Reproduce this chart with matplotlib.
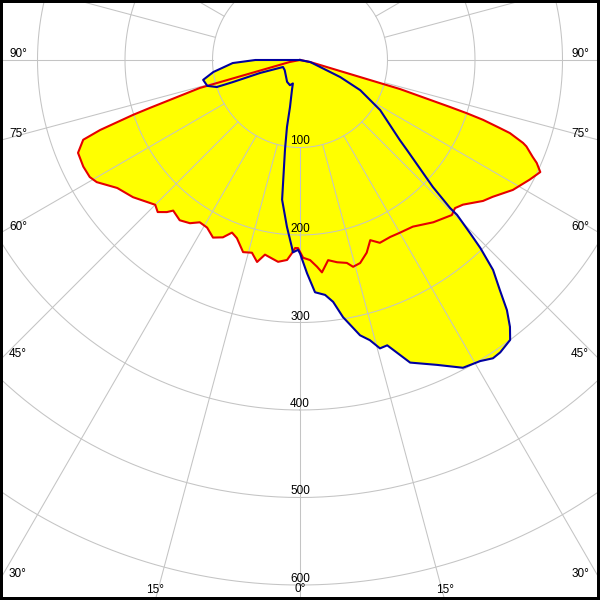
import numpy as np
import matplotlib
matplotlib.use("Agg")
import matplotlib.pyplot as plt
from matplotlib.patches import Rectangle

# ==========================================
# ================DATA======================
# ==========================================

# C0-C180 plane (red): gamma in degrees, negative = C180 side, intensity in cd
red_gamma = [-90, -79, -74.4, -72.3, -71.8, -70.7, -69.8, -67.3, -63.8, -60.9,
             -59.0, -55.0, -50.6, -45.0, -43.1, -41.2, -40.1, -36.9, -34.0, -31.7,
             -29.0, -26.1, -23.5, -21.5, -19.5, -16.5, -14.0, -12.0, -10.2, -8.1,
             -6.2, -3.7, -2.4, -1.5, -0.6, 0.9, 2.9, 4.7, 5.9, 8.0,
             10.4, 13.0, 14.4, 16.5, 19.1, 21.3, 23.6, 27.0, 30.0, 34.1,
             39.4, 44.4, 46.3, 48.4, 52.4, 54.6, 58.6, 62.5, 65.0, 66.5,
             67.4, 69.1, 69.6, 70.8, 71.2, 71.9, 72.3, 72.6, 73.8, 78.7, 90]
red_cd = [0, 12, 119, 180, 201, 242, 264, 275, 276, 275,
          271, 255, 247, 234, 238, 231, 225, 229, 225, 218,
          219, 226, 221, 212, 216, 229, 227, 236, 226, 229,
          232, 229, 221, 215, 215, 226, 229, 237, 244, 231,
          235, 238, 244, 242, 233, 221, 228, 227, 228, 230,
          240, 248, 245, 249, 264, 270, 285, 296, 303, 295,
          288, 277, 272, 254, 241, 220, 200, 180, 119, 12, 0]

# C90-C270 plane (blue): negative = C270 side
blue_gamma = [-90, -90, -87.4, -82.1, -78.4, -74.4, -72.0, -71.8, -72.0, -67.6,
              -56.3, -30.6, -21.8, -16.9, -14.9, -12.0, -11.0, -9.5, -7.3, -4.5,
              -2.5, -2.1, -0.6, 0, 1.9, 3.7, 6.1, 7.8, 9.5, 11.2,
              12.3, 14.0, 15.5, 17.0, 20.0, 24.2, 27.9, 30.9, 32.9, 34.4,
              36.9, 38.2, 39.6, 41.0, 42.6, 43.8, 44.5, 45.4, 45.4, 46.3,
              49.9, 51.3, 58.0, 63.4, 67.0, 78.7, 90]
blue_cd = [0, 51, 77, 100, 113, 110, 100, 81, 48, 21,
           21, 29, 31, 28, 36, 55, 78, 104, 161, 191,
           214, 220, 217, 221, 244, 266, 270, 279, 298, 312,
           322, 330, 342, 341, 368, 382, 398, 401, 406, 405,
           400, 388, 371, 348, 326, 298, 277, 252, 241, 210,
           160, 146, 108, 77, 50, 12, 0]

ring_values = [100, 200, 300, 400, 500, 600]
angle_labels = [0, 15, 30, 45, 60, 75, 90]

# ==========================================
# ================LAYOUT====================
# ==========================================

fig_px = 600
pole = (300, 60)        # pixel position of the pole (from top-left)
px_per_cd = 0.875       # 100 cd = 87.5 px
r_max = 700
pt = 0.72               # points per pixel at 100 dpi

grid_color = '#c4c4c4'
label_font = dict(fontsize=8.5, family='Liberation Sans', color='black')

fig = plt.figure(figsize=(6, 6), dpi=100)
R = r_max * px_per_cd / fig_px
cx = pole[0] / fig_px
cy = 1 - pole[1] / fig_px
ax = fig.add_axes([cx - R, cy - R, 2 * R, 2 * R], projection='polar')
ax.set_theta_zero_location('S')
ax.set_theta_direction(1)
ax.set_ylim(0, r_max)
ax.axis('off')

# remplissage jaune des deux plans
ax.fill(np.radians(red_gamma), red_cd, color='#ffff00', lw=0, zorder=1)
ax.fill(np.radians(blue_gamma), blue_cd, color='#ffff00', lw=0, zorder=1)

# grille : cercles + rayons tous les 15 degrés (à partir de 100 cd)
theta = np.radians(np.linspace(0, 360, 721))
for r in ring_values:
    ax.plot(theta, np.full_like(theta, r), color=grid_color, lw=0.75, zorder=2)
for a in range(0, 360, 15):
    ax.plot(np.radians([a, a]), [100, r_max], color=grid_color, lw=0.75, zorder=2)

# courbes
ax.plot(np.radians(red_gamma), red_cd, color='#e60000', lw=1.5, zorder=3)
ax.plot(np.radians(blue_gamma), blue_cd, color='#0000a0', lw=1.5, zorder=4)

# étiquettes des cercles
for r in ring_values:
    ax.annotate(str(r), xy=(0, r), xytext=(0, 3 * pt), textcoords='offset points',
                ha='center', va='baseline', annotation_clip=False, zorder=5, **label_font)

# étiquettes des angles, au bord de l'image
half_w = pole[0]
depth = fig_px - pole[1]
for a in angle_labels:
    g = np.radians(a)
    r_side = half_w / np.sin(g) if a > 0 else np.inf
    r_bottom = depth / np.cos(g) if a < 90 else np.inf
    r_edge = min(r_side, r_bottom) / px_per_cd
    sides = [1] if a == 0 else [-1, 1]
    for s in sides:
        if r_side < r_bottom:
            off = (9 * pt, 3 * pt) if s < 0 else (-11 * pt, 3 * pt)
            ha = 'left' if s < 0 else 'right'
        else:
            off = (0, 7.5 * pt)
            ha = 'center'
        ax.annotate(f'{a}°', xy=(s * g, r_edge), xytext=off, textcoords='offset points',
                    ha=ha, va='baseline', annotation_clip=False, zorder=5, **label_font)

# cadre noir
fig.add_artist(Rectangle((0, 0), 1, 1, transform=fig.transFigure, fill=False,
                         ec='black', lw=6 * pt, zorder=10))

fig.savefig('out.png', dpi=100)
